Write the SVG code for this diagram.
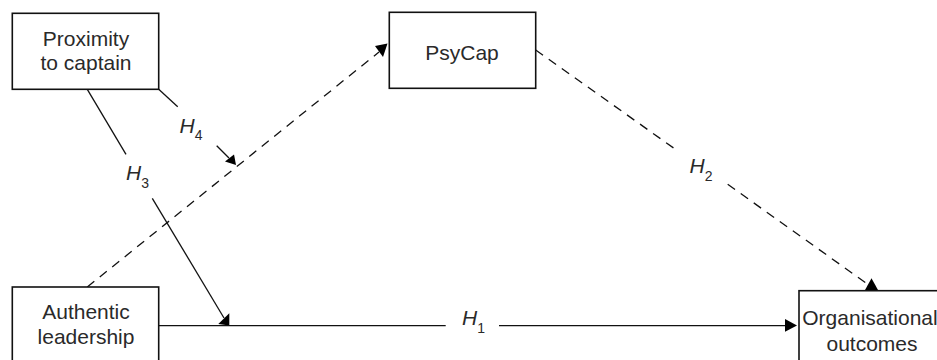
<svg xmlns="http://www.w3.org/2000/svg" width="937" height="360" viewBox="0 0 937 360">
<style>
.box{fill:#fff;stroke:#111;stroke-width:1.6}
.lbl{font-family:"Liberation Sans",Arial,sans-serif;font-size:21px;fill:#2a2a2a;text-anchor:middle}
.h{font-family:"Liberation Sans",Arial,sans-serif;font-size:21px;fill:#2a2a2a;font-style:italic}
.sub{font-style:normal;font-size:14px}
.ln{fill:none;stroke:#111;stroke-width:1.3}
.dash{fill:none;stroke:#111;stroke-width:1.3;stroke-dasharray:9 7}
.ah{fill:#000;stroke:none}
</style>
<rect width="937" height="360" fill="#fff"/>
<g id="connectors">
  <!-- H3 -->
  <path class="ln" d="M87.3,89.3 L126,154.3"/>
  <path class="ln" d="M152.3,198.3 L224,318"/>
  <polygon class="ah" points="229.3,325.5 218.3,324 229.3,313.3"/>
  <!-- H4 -->
  <path class="ln" d="M158.7,89.3 L177.7,106.7"/>
  <path class="ln" d="M216.7,145.7 L229,158"/>
  <polygon class="ah" points="236,165 225,161.5 234,154.5"/>
  <!-- H1 -->
  <path class="ln" d="M158.7,325.7 L445.7,325.7"/>
  <path class="ln" d="M499,325.7 L786,325.7"/>
  <polygon class="ah" points="797,325.5 785,319 785,331.8"/>
  <!-- Authentic to PsyCap -->
  <path class="dash" d="M87.3,287 L379,52"/>
  <polygon class="ah" points="375,46 387.5,43.5 383,57"/>
  <!-- PsyCap to Org -->
  <path class="dash" d="M535.7,50 L675,149"/>
  <path class="dash" d="M727.7,184.3 L866,283"/>
  <polygon class="ah" points="871.5,278.3 865,290 878,290"/>
  <!-- labels -->
  <text class="h" x="462" y="325">H<tspan class="sub" dy="8">1</tspan></text>
  <text class="h" x="689.5" y="173.3">H<tspan class="sub" dy="8">2</tspan></text>
  <text class="h" x="126" y="180">H<tspan class="sub" dy="8">3</tspan></text>
  <text class="h" x="179.5" y="133.3">H<tspan class="sub" dy="7">4</tspan></text>
</g>
<g id="proximity">
  <rect class="box" x="12.3" y="13.3" width="146.4" height="76"/>
  <text class="lbl" x="86" y="45.5">Proximity</text>
  <text class="lbl" x="86" y="70">to captain</text>
</g>
<g id="psycap">
  <rect class="box" x="389.3" y="12.3" width="146.4" height="76"/>
  <text class="lbl" x="462" y="60">PsyCap</text>
</g>
<g id="authentic">
  <rect class="box" x="12.3" y="287" width="146.4" height="76"/>
  <text class="lbl" x="86" y="318.5">Authentic</text>
  <text class="lbl" x="86" y="344">leadership</text>
</g>
<g id="organisational">
  <rect class="box" x="799" y="290.7" width="146.4" height="76"/>
  <text class="lbl" x="870" y="325">Organisational</text>
  <text class="lbl" x="872" y="350.5">outcomes</text>
</g>
</svg>
